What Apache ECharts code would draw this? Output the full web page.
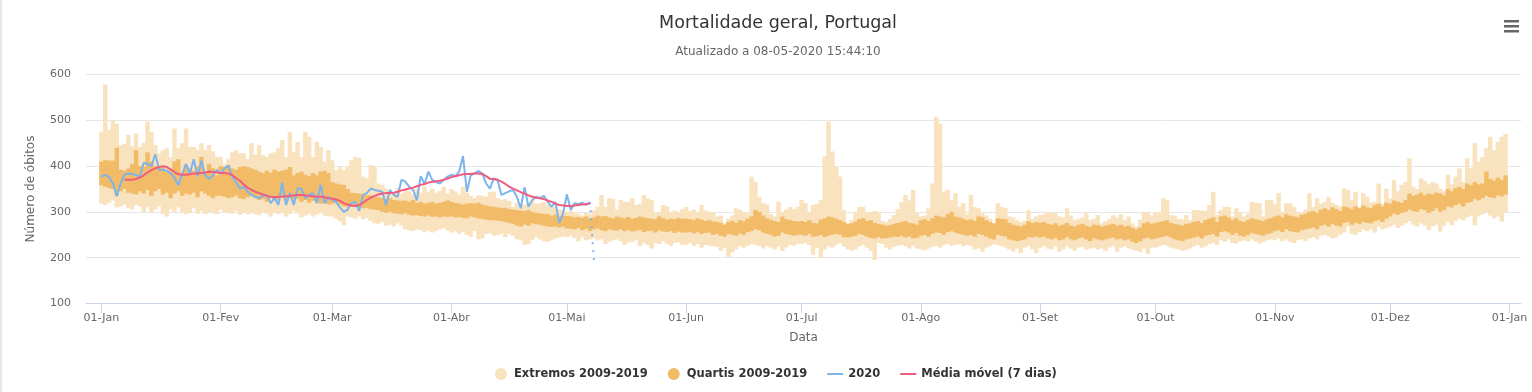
<!DOCTYPE html>
<html><head><meta charset="utf-8">
<script src="https://cdn.jsdelivr.net/npm/echarts@6/dist/echarts.min.js"></script>
<style>html,body{margin:0;padding:0;background:#fff}#c{width:1532px;height:392px}</style>
</head><body><div id="c"></div>
<script>
// ---- axis ticks ----
const tickDays = [0,31,60,91,121,152,182,213,244,274,305,335,366];
const tickLabels = ['01-Jan','01-Fev','01-Mar','01-Abr','01-Mai','01-Jun','01-Jul','01-Ago','01-Set','01-Out','01-Nov','01-Dez','01-Jan'];
const yTicks = [100,200,300,400,500,600];
const legendNames = ['Extremos 2009-2019','Quartis 2009-2019','2020','Média móvel (7 dias)'];

// ---- Extremos 2009-2019 (max / min per day, day 0 = 01-Jan) ----
const extMax = [
475,578,479,500,492,446,449,468,443,471,442,451,497,475,446,428,435,439,420,482,439,450,482,442,442,435,450,435,446,432,420,
420,405,415,430,435,428,428,415,450,425,446,424,420,428,430,439,457,420,475,431,453,420,475,464,420,453,442,410,435,
413,391,398,391,400,413,420,418,377,373,402,400,362,359,351,345,341,352,340,348,345,338,350,342,355,344,351,342,346,355,340,
350,345,338,355,342,335,330,336,335,333,344,344,330,326,328,324,311,320,318,316,320,325,318,319,322,316,310,312,306,304,
300,302,298,296,292,298,295,303,311,337,311,330,328,305,326,322,322,330,315,318,337,330,326,297,300,315,312,300,303,298,306,
311,302,305,298,315,303,300,300,290,292,275,285,292,308,305,300,296,377,366,333,319,316,295,290,322,300,305,311,306,311,
326,319,300,315,318,326,421,497,432,399,377,304,275,282,300,311,311,300,298,302,300,280,278,285,293,306,322,337,325,348,300,
290,292,308,362,508,493,344,348,326,341,311,319,295,337,311,308,297,292,285,275,319,311,308,290,288,282,278,280,304,285,290,
293,295,300,298,297,290,288,308,292,282,285,288,297,282,285,293,275,280,285,293,288,295,282,290,275,268,283,300,300,292,
300,300,330,326,293,292,285,284,293,282,304,304,303,302,315,344,293,304,311,311,290,308,300,290,296,322,320,319,290,326,326,
318,341,300,319,319,311,300,297,305,341,311,330,318,322,333,320,315,311,351,348,326,344,311,341,333,320,322,362,318,351,
330,370,345,359,365,417,355,350,373,368,360,365,362,351,345,381,360,377,395,365,417,395,450,410,420,439,464,435,453,464,470
];
const extMin = [
318,315,320,325,310,312,316,308,305,315,312,300,310,298,305,312,295,290,305,300,310,300,295,298,308,296,302,295,300,298,295,
305,300,298,296,302,293,298,295,300,295,293,300,296,290,298,295,300,290,295,302,296,288,292,295,290,294,298,292,290,
290,285,280,271,290,288,285,290,284,287,280,275,274,278,270,272,268,275,270,262,260,258,262,260,256,259,255,258,262,264,260,
255,258,252,256,250,246,258,240,242,252,253,248,250,252,245,252,248,240,238,228,230,238,245,240,236,235,238,242,244,246,
245,248,242,236,244,238,240,242,238,240,230,235,238,240,236,228,233,235,238,226,232,228,220,232,230,236,230,226,232,234,228,
228,232,226,230,222,228,226,225,224,215,222,202,212,218,225,222,226,230,228,226,220,225,222,218,224,215,222,228,226,230,
230,232,228,206,222,199,218,225,222,228,232,225,218,215,218,225,228,222,215,195,232,230,222,218,224,226,228,225,220,226,220,
218,216,220,224,226,222,228,230,226,228,230,225,228,226,218,220,213,222,225,230,228,225,222,218,213,220,210,222,225,218,210,
222,225,220,218,225,213,218,225,220,215,222,224,218,220,222,218,220,215,222,226,213,222,225,220,218,215,212,220,208,222,
222,225,228,226,222,220,218,215,217,220,225,228,222,225,230,232,228,239,235,240,232,231,236,238,235,240,236,231,234,238,240,
238,242,236,240,235,232,238,240,236,242,245,240,248,250,246,242,244,250,255,268,252,250,256,262,258,262,255,268,262,265,
268,272,265,270,275,280,272,268,275,270,260,268,272,257,270,278,271,280,285,282,288,292,271,290,295,300,292,286,290,279,300
];
// ---- Quartis 2009-2019 (q3 / q1 per day) ----
const q3 = [
410,413,412,412,440,392,390,395,405,435,400,398,430,410,400,395,400,388,392,410,415,385,402,395,390,400,420,385,405,395,380,
400,398,402,395,392,398,400,398,395,392,388,385,390,386,392,388,390,392,398,380,385,388,381,378,385,380,388,390,385,
365,362,360,359,350,342,341,340,338,337,336,334,332,330,328,330,326,325,324,325,322,326,320,322,318,320,322,318,320,322,325,
322,320,318,316,318,319,318,320,316,314,312,311,310,308,309,306,305,304,303,302,304,300,298,297,296,295,292,294,290,292,
291,290,288,289,287,290,286,288,292,290,291,288,286,290,288,286,289,285,287,290,288,286,285,284,290,286,283,285,284,287,285,
285,284,282,286,283,280,282,279,278,276,272,278,280,276,282,279,285,290,304,300,292,286,283,280,278,290,284,282,280,279,
280,278,282,276,275,283,286,290,288,285,282,278,274,275,279,284,286,280,282,276,274,272,270,271,274,276,278,280,276,275,272,
282,284,280,286,292,290,288,295,300,290,288,285,282,284,280,290,288,282,278,275,286,285,284,276,272,270,268,272,280,276,278,
276,278,274,272,275,270,272,276,270,268,272,274,270,268,272,271,268,270,272,274,270,272,268,270,265,262,266,275,278,274,
276,278,280,282,276,274,272,270,274,275,278,280,276,282,285,288,278,290,292,288,282,286,280,278,282,286,284,282,280,284,286,
290,292,288,295,292,290,288,294,296,300,302,298,305,308,304,310,306,302,312,310,306,312,308,314,310,308,315,318,312,320,
318,325,322,320,326,340,335,338,342,336,340,338,342,340,336,350,345,352,355,350,362,358,365,360,362,388,372,368,375,370,380
];
const q1 = [
358,355,352,350,336,345,350,342,340,338,345,340,348,335,345,350,338,342,330,340,345,335,340,338,342,332,345,340,335,330,335,
335,333,330,332,336,330,328,332,335,330,326,328,322,330,328,324,332,326,330,325,328,322,326,320,324,322,318,320,316,
318,320,316,312,310,311,312,310,308,309,306,305,304,300,298,300,297,296,295,297,294,292,293,291,290,292,289,290,288,290,289,
290,288,289,287,286,290,288,286,285,283,282,282,281,280,278,276,274,270,268,272,270,275,273,272,270,268,267,268,266,268,
264,263,262,265,260,263,258,262,264,260,258,262,260,259,262,258,260,257,259,261,256,258,259,255,260,257,256,258,254,257,255,
255,256,253,256,252,254,255,250,252,248,246,252,250,248,253,250,256,258,262,260,255,252,250,246,248,255,252,250,248,250,
250,248,252,246,247,250,245,248,250,252,250,245,244,246,248,252,250,246,243,242,245,242,243,244,246,245,248,244,246,242,243,
248,250,246,252,255,254,250,256,258,255,252,250,248,250,246,252,250,246,242,240,250,248,246,240,238,236,238,240,245,244,246,
244,246,242,240,243,238,240,245,240,238,242,244,240,236,242,240,238,240,242,244,240,242,238,240,235,232,236,242,244,240,
242,244,246,248,244,240,238,236,240,242,244,246,242,248,250,252,246,256,258,255,250,254,248,246,250,254,252,250,248,252,254,
258,260,256,262,258,256,255,260,262,264,266,262,270,272,268,274,270,268,276,278,272,276,274,278,276,275,280,282,278,285,
290,296,294,298,300,305,302,300,306,304,298,302,308,300,304,312,310,315,318,312,320,322,328,325,330,335,332,330,336,334,338
];
// ---- 2020 (day 0 .. day 128) ----
const obitos2020 = [
377,381,376,362,334,362,381,384,383,380,378,407,405,400,426,392,392,390,384,375,358,382,405,384,415,378,412,380,372,380,392,
384,395,401,378,365,351,355,344,337,333,330,335,337,319,330,315,364,315,341,315,351,351,330,337,341,319,359,319,333,326,322,310,300,
305,319,322,302,337,341,351,348,346,344,315,348,337,333,370,366,355,348,325,378,361,388,370,365,362,370,377,381,378,388,422,344,
380,384,389,384,362,351,373,368,337,341,345,348,333,308,354,311,326,333,330,335,322,311,322,276,297,338,304,319,317,320,315,321,195
];
// ---- Média móvel (7 dias), from day 6 to day 127 ----
const mediaStart = 6;
const media7 = [
370,370,370,372,375,380,386,391,395,398,400,398,393,387,382,381,381,382,384,384,385,386,388,387,386,
385,385,384,380,374,368,360,353,348,344,341,338,335,333,332,333,333,334,335,336,337,337,336,335,334,333,333,332,330,
329,327,324,319,316,314,313,315,320,326,331,335,338,340,341,341,342,344,347,349,351,353,356,359,361,364,366,367,368,370,373,
376,378,380,382,383,383,384,384,383,378,372,372,370,366,361,355,351,347,343,340,336,333,331,330,328,325,322,318,315,314,
313,313,314,315,316,317,319
];

// ---- build ----
const OFF = 4;            // category padding before 01-Jan
const NCAT = 374;         // days -4 .. 369
const cats = [];
for (let i = 0; i < NCAT; i++) cats.push(String(i - OFF));
const tickSet = {};
tickDays.forEach((d, k) => { tickSet[String(d)] = tickLabels[k]; });
const isTick = (idx, val) => tickSet[val] !== undefined;

const extData = extMax.map((v, i) => [i + OFF, extMin[i], v]);
const quaData = q3.map((v, i) => [i + OFF, q1[i], v]);
const lastIdx = obitos2020.length - 1;
const solid2020 = obitos2020.slice(0, lastIdx).map((v, i) => [i + OFF, v]);
const dotted2020 = [[lastIdx - 1 + OFF, obitos2020[lastIdx - 1]], [lastIdx + OFF, obitos2020[lastIdx]]];
const mediaData = media7.map((v, i) => [i + mediaStart + OFF, v]);

function rangeItem(params, api) {
  const x = api.value(0), lo = api.value(1), hi = api.value(2);
  const top = api.coord([x, hi]);
  const bot = api.coord([x, lo]);
  const w = api.size([1, 0])[0];
  return {
    type: 'rect',
    shape: { x: top[0] - w / 2 - 0.3, y: top[1], width: w + 0.6, height: bot[1] - top[1] },
    style: { fill: api.visual('color') }
  };
}

const FONT = 'DejaVu Sans';
const LINE_ICON = 'path://M0,0L16,0L16,2L0,2Z';
const chart = echarts.init(document.getElementById('c'), null, { renderer: 'canvas' });
chart.setOption({
  animation: false,
  backgroundColor: '#ffffff',
  textStyle: { fontFamily: FONT },
  title: [
    { text: 'Mortalidade geral, Portugal', left: 773, top: 9, textAlign: 'center',
      textStyle: { fontFamily: FONT, fontSize: 17.5, fontWeight: 'normal', color: '#333333' } },
    { text: 'Atualizado a 08-05-2020 15:44:10', left: 773, top: 41, textAlign: 'center',
      textStyle: { fontFamily: FONT, fontSize: 12, fontWeight: 'normal', color: '#666666' } }
  ],
  grid: { left: 86, right: 11, top: 74.5, bottom: 88.5, containLabel: false },
  legend: {
    bottom: 7, left: 490, itemGap: 20, itemWidth: 16, itemHeight: 12,
    textStyle: { fontFamily: FONT, fontSize: 11.5, fontWeight: 'bold', color: '#333333' },
    data: [
      { name: legendNames[0], icon: 'circle' },
      { name: legendNames[1], icon: 'circle' },
      { name: legendNames[2], icon: LINE_ICON },
      { name: legendNames[3], icon: LINE_ICON }
    ]
  },
  xAxis: {
    type: 'category', data: cats, boundaryGap: false,
    name: 'Data', nameLocation: 'middle', nameGap: 28,
    nameTextStyle: { fontFamily: FONT, fontSize: 12, color: '#666666' },
    axisLine: { show: true, lineStyle: { color: '#ccd6eb', width: 1 } },
    axisTick: { show: true, interval: isTick, length: 10, lineStyle: { color: '#ccd6eb' } },
    axisLabel: { interval: isTick, formatter: v => tickSet[v] || '', color: '#666666',
      fontFamily: FONT, fontSize: 11, margin: 9 },
    splitLine: { show: false }
  },
  yAxis: {
    type: 'value', min: yTicks[0], max: yTicks[yTicks.length - 1], interval: 100,
    name: 'Número de óbitos', nameLocation: 'middle', nameGap: 49,
    nameTextStyle: { fontFamily: FONT, fontSize: 12, color: '#666666' },
    axisLine: { show: false }, axisTick: { show: false },
    axisLabel: { color: '#666666', fontFamily: FONT, fontSize: 11, margin: 15 },
    splitLine: { lineStyle: { color: '#e6e6e6' } }
  },
  series: [
    { name: legendNames[0], type: 'custom', renderItem: rangeItem, data: extData,
      encode: { x: 0, y: [1, 2] }, itemStyle: { color: '#f9e2be' }, z: 1 },
    { name: legendNames[1], type: 'custom', renderItem: rangeItem, data: quaData,
      encode: { x: 0, y: [1, 2] }, itemStyle: { color: '#f2bb68' }, z: 2 },
    { name: legendNames[2], type: 'line', data: solid2020, symbol: 'none', z: 4,
      itemStyle: { color: '#7cb5ec' }, lineStyle: { color: '#7cb5ec', width: 2 } },
    { name: legendNames[2], type: 'line', data: dotted2020, symbol: 'none', z: 4,
      itemStyle: { color: '#7cb5ec' }, lineStyle: { color: '#7cb5ec', width: 2, type: [2, 6] } },
    { name: legendNames[3], type: 'line', data: mediaData, symbol: 'none', z: 5,
      itemStyle: { color: '#f15c80' }, lineStyle: { color: '#f15c80', width: 2 } }
  ],
  graphic: [
    { type: 'rect', left: 0, top: 0, shape: { width: 2, height: 392 }, style: { fill: '#e8e8e8' } },
    { type: 'rect', left: 1504, top: 20, shape: { width: 15, height: 2.5 }, style: { fill: '#666666' } },
    { type: 'rect', left: 1504, top: 25, shape: { width: 15, height: 2.5 }, style: { fill: '#666666' } },
    { type: 'rect', left: 1504, top: 30, shape: { width: 15, height: 2.5 }, style: { fill: '#666666' } }
  ]
});
</script>
</body></html>
